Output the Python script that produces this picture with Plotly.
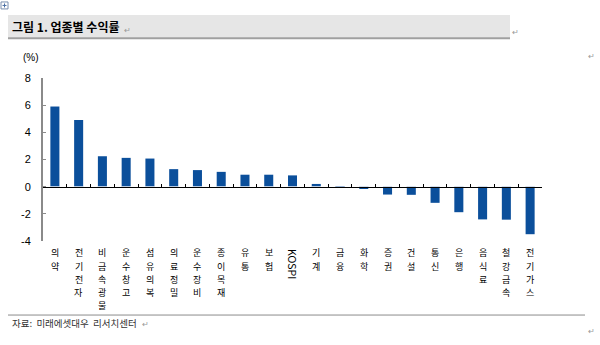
import plotly.graph_objects as go

categories = ["의약", "전기전자", "비금속광물", "운수창고", "섬유의복", "의료정밀", "운수장비",
              "종이목재", "유통", "보험", "KOSPI", "기계", "금융", "화학", "증권", "건설",
              "통신", "은행", "음식료", "철강금속", "전기가스"]
returns = [5.9, 4.91, 2.24, 2.12, 2.07, 1.29, 1.22, 1.09, 0.88, 0.88, 0.83, 0.2, -0.05,
           -0.17, -0.58, -0.6, -1.19, -1.88, -2.41, -2.43, -3.5]
y_ticks = [8, 6, 4, 2, 0, -2, -4]

title_text = "그림 1. 업종별 수익률"
source_text = "자료:  미래에셋대우  리서치센터"
unit_text = "(%)"

W, H = 600, 345
L, R = 43, 542          # plot area pixel edges
T, B = 77.5, 241.5

def px(x):
    return (x - L) / (R - L)

def py(y):
    return (B - y) / (B - T)

fig = go.Figure()
fig.add_trace(go.Bar(x=categories, y=returns, marker=dict(color="#0b4f9b", line=dict(width=0)),
                     width=0.38, showlegend=False))
# invisible trace to drive the zero-positioned category axis
fig.add_trace(go.Bar(x=categories, y=[0] * len(categories), xaxis="x2", showlegend=False,
                     hoverinfo="skip", marker=dict(color="rgba(0,0,0,0)")))

fig.update_layout(
    width=W, height=H,
    margin=dict(l=L, r=W - R, t=T, b=H - B, pad=0),
    paper_bgcolor="white", plot_bgcolor="white",
    font=dict(family="Noto Sans CJK KR, Liberation Sans, sans-serif", color="#000"),
    bargap=0.6,
    xaxis=dict(type="category", showticklabels=False, showline=False, ticks="",
               showgrid=False, zeroline=False, range=[-0.5, len(categories) - 0.5]),
    xaxis2=dict(type="category", overlaying="x", anchor="free",
                position=(0 - y_ticks[-1]) / (y_ticks[0] - y_ticks[-1]),
                showticklabels=False, showline=True, linecolor="#000", linewidth=1,
                ticks="inside", tickson="boundaries", ticklen=3, tickcolor="#000",
                tickwidth=1, showgrid=False, zeroline=False,
                range=[-0.5, len(categories) - 0.5]),
    yaxis=dict(range=[y_ticks[-1], y_ticks[0]], tickvals=y_ticks, ticktext=[str(v) for v in y_ticks],
               showline=True, linecolor="#8a8a8a", linewidth=2, ticks="inside", ticklen=3,
               tickcolor="#8a8a8a", tickwidth=1, showgrid=False, zeroline=False,
               ticklabelstandoff=8,
               tickfont=dict(family="Liberation Sans, Arial, sans-serif", size=11, color="#000")),
)

shapes = [
    dict(type="rect", xref="paper", yref="paper", x0=px(8), x1=px(510), y0=py(37), y1=py(14),
         fillcolor="#e6e6e6", line=dict(width=0), layer="below"),
    dict(type="line", xref="paper", yref="paper", x0=px(8), x1=px(510), y0=py(37.5), y1=py(37.5),
         line=dict(color="#a0a0a0", width=2)),
    dict(type="line", xref="paper", yref="paper", x0=px(8), x1=px(585), y0=py(316), y1=py(316),
         line=dict(color="#8c8c8c", width=1)),
    dict(type="rect", xref="paper", yref="paper", x0=px(1), x1=px(8), y0=py(8), y1=py(1),
         fillcolor="white", line=dict(color="#7a8fb0", width=1)),
    dict(type="line", xref="paper", yref="paper", x0=px(2.5), x1=px(6.5), y0=py(4.5), y1=py(4.5),
         line=dict(color="#4a6fa5", width=1)),
    dict(type="line", xref="paper", yref="paper", x0=px(4.5), x1=px(4.5), y0=py(2.5), y1=py(6.5),
         line=dict(color="#4a6fa5", width=1)),
]

annotations = [
    dict(text=f"<b>{title_text}</b>", xref="paper", yref="paper", x=px(10), y=py(25.5),
         xanchor="left", yanchor="middle", showarrow=False,
         font=dict(size=12, color="#000", family="Noto Sans CJK KR, sans-serif")),
    dict(text=unit_text, xref="paper", yref="paper", x=px(31), y=py(57), xanchor="center",
         yanchor="middle", showarrow=False,
         font=dict(size=10, family="Liberation Sans, Arial, sans-serif", color="#000")),
    dict(text=source_text, xref="paper", yref="paper", x=px(10), y=py(324.5), xanchor="left",
         yanchor="middle", showarrow=False,
         font=dict(size=9.5, family="Noto Sans CJK KR, sans-serif", color="#333")),
]
for mark_x, mark_y in [(127, 29), (515, 31), (591, 55), (591, 332), (145, 325)]:
    annotations.append(dict(text="↵", xref="paper", yref="paper", x=px(mark_x), y=py(mark_y),
                            xanchor="center", yanchor="middle", showarrow=False,
                            font=dict(size=8, color="#999")))

LABEL_TOP = 246
LINE_STEP = 13.2
for cat in categories:
    if cat.isascii():
        annotations.append(dict(text=cat, x=cat, xref="x", yref="paper", y=py(LABEL_TOP + 1),
                                yanchor="top", xanchor="center", textangle=90, showarrow=False,
                                font=dict(size=10.5, family="Noto Sans CJK KR, sans-serif")))
    else:
        for i, ch in enumerate(cat):
            annotations.append(dict(text=ch, x=cat, xref="x", yref="paper",
                                    y=py(LABEL_TOP + i * LINE_STEP), yanchor="top",
                                    xanchor="center", showarrow=False, borderpad=0,
                                    font=dict(size=9, family="Noto Sans CJK KR, sans-serif")))

fig.update_layout(shapes=shapes, annotations=annotations)
fig.write_html("out.html")
